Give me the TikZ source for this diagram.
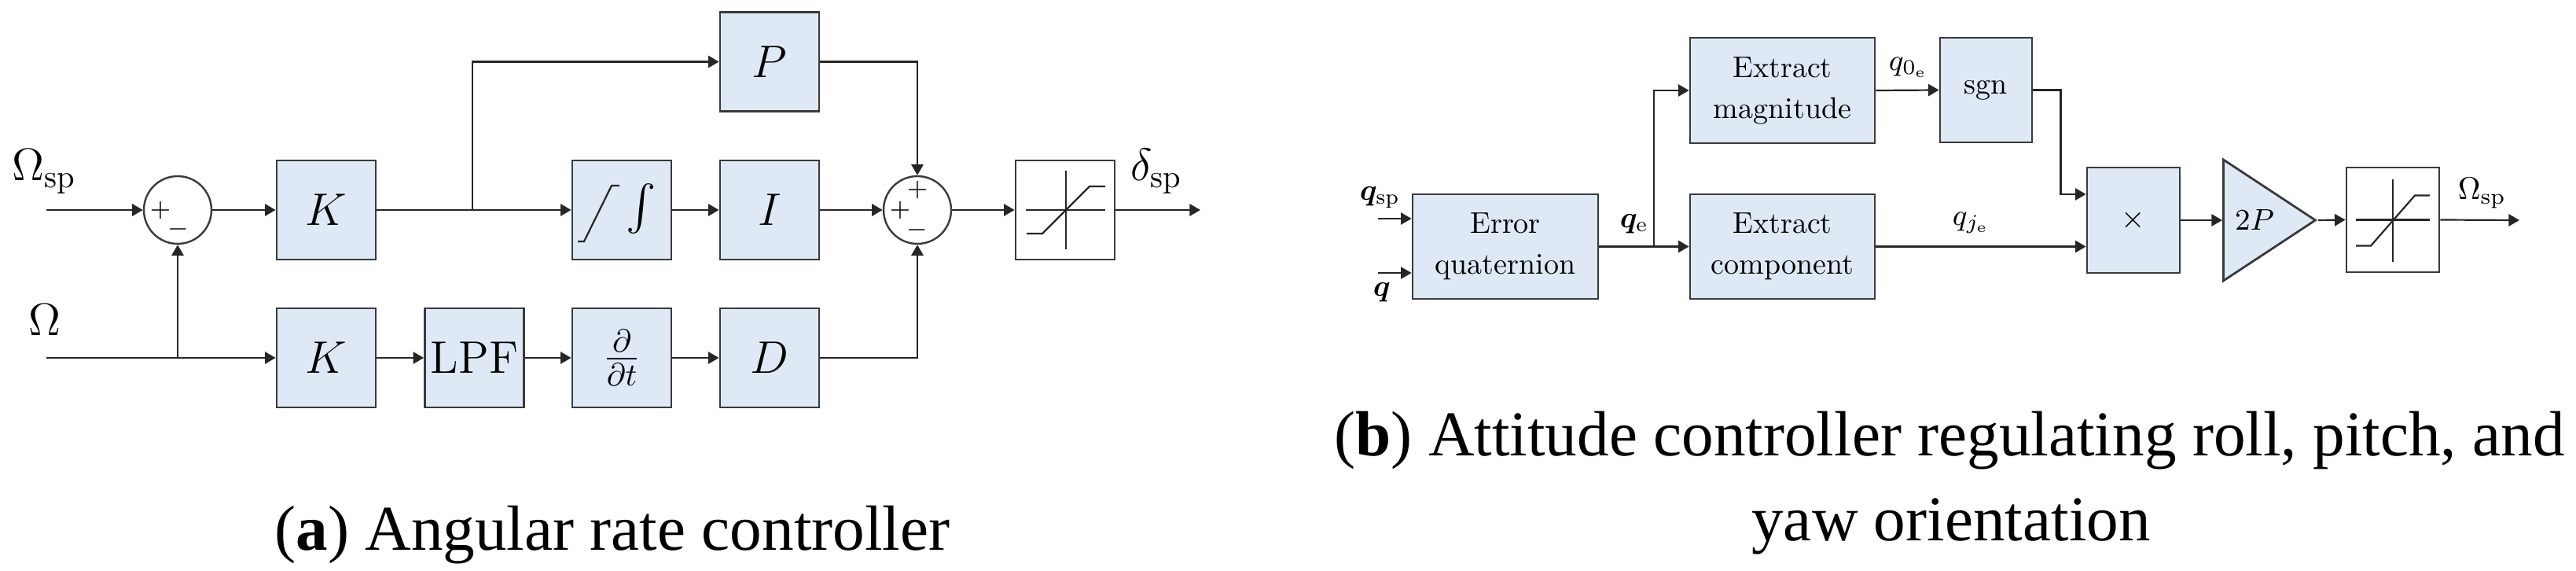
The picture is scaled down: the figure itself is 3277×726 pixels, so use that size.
\RequirePackage{fix-cm}
\documentclass[tikz,border=0pt]{standalone}
\usepackage{amsmath}
\usepackage{bm}
\usepackage{fontspec}
\usetikzlibrary{arrows.meta,shapes.geometric,calc}
\newfontfamily\capfont{Liberation Serif}
\definecolor{boxfill}{HTML}{DEE9F5}
\definecolor{boxline}{HTML}{3A3A3A}
\definecolor{linec}{HTML}{262626}
\begin{document}
\begin{tikzpicture}[x=0.25pt,y=-0.25pt,
  blk/.style={draw=boxline, fill=boxfill, line width=0.7pt, minimum width=31.5pt, minimum height=31.5pt, inner sep=0pt, font=\fontsize{14.5}{17}\selectfont},
  satblk/.style={draw=boxline, fill=white, line width=0.7pt, inner sep=0pt},
  sumc/.style={circle, draw=boxline, line width=0.6pt, minimum size=21.5pt, inner sep=0pt},
  sig/.style={font=\fontsize{8}{9}\selectfont, inner sep=0pt},
  arr/.style={-{Triangle[length=3.4pt,width=3.8pt]}, line width=0.55pt, draw=linec},
  ln/.style={line width=0.55pt, draw=linec},
  lbla/.style={font=\fontsize{14.5}{17}\selectfont, inner sep=0pt},
  bblk/.style={draw=boxline, fill=boxfill, line width=0.7pt, inner sep=0pt, align=center, font=\fontsize{9.5}{13}\selectfont},
  lblb/.style={font=\fontsize{9.5}{11}\selectfont, inner sep=0pt},
  captxt/.style={font=\capfont\fontsize{20.3}{26.75}\selectfont, inner sep=0pt}
]
\useasboundingbox (0,0) rectangle (3277,726);

% ---------------- panel (a) ----------------
\node[sumc] (sum1) at (226,267) {};
\node[blk] (ktop) at (415,267) {$K$};
\node[blk] (int) at (791,267) {};
\node[blk] (ib) at (979,267) {$I$};
\node[blk] (P) at (979,78.5) {$P$};
\node[sumc] (sum2) at (1167,267) {};
\node[satblk, minimum width=31.5pt, minimum height=31.5pt] (sat) at (1355,267) {};
\node[blk] (kbot) at (415,455) {$K$};
\node[blk] (lpf) at (603.5,455) {LPF};
\node[blk] (ddt) at (791,455) {$\frac{\partial}{\partial t}$};
\node[blk] (D) at (979,455) {$D$};

\coordinate (ospin) at (59,267);
\coordinate (omin) at (59,455);
\coordinate (br1) at (601,267);
\coordinate (outa) at (1527,267);

\draw[arr] (ospin) -- (sum1.west);
\draw[arr] (omin) -- (kbot.west);
\draw[arr] (sum1 |- kbot) -- (sum1.south);
\draw[arr] (sum1.east) -- (ktop.west);
\draw[arr] (ktop.east) -- (int.west);
\draw[arr] (br1) |- (P.west);
\draw[arr] (int.east) -- (ib.west);
\draw[arr] (ib.east) -- (sum2.west);
\draw[arr] (P.east) -| (sum2.north);
\draw[arr] (kbot.east) -- (lpf.west);
\draw[arr] (lpf.east) -- (ddt.west);
\draw[arr] (ddt.east) -- (D.west);
\draw[arr] (D.east) -| (sum2.south);
\draw[arr] (sum2.east) -- (sat.west);
\draw[arr] (sat.east) -- (outa);

\node[sig] (s1a) at ($(sum1)+(-22,1)$) {$+$};
\node[sig] (s1b) at ($(sum1)+(1,25)$) {$-$};
\node[sig] (s2a) at ($(sum2)+(0,-25)$) {$+$};
\node[sig] (s2b) at ($(sum2)+(-22,1)$) {$+$};
\node[sig] (s2c) at ($(sum2)+(0,26)$) {$-$};

\begin{scope}[shift={(int.center)}]
  \draw[ln] (-56,40) -- (-48,40) -- (-13,-31) -- (-3,-31);
  \node[lbla] (intsym) at (25,-1) {$\int$};
\end{scope}
\begin{scope}[shift={(sat.center)}]
  \draw[ln] (-50,0) -- (51,0);
  \draw[ln] (1,-50) -- (1,50);
  \draw[ln] (-49,30) -- (-29,30) -- (31,-30) -- (51,-30);
\end{scope}

\node[lbla, anchor=base west] (lOsp) at (15,230) {$\Omega_{\mathrm{sp}}$};
\node[lbla, anchor=base west] (lO) at (36,427) {$\Omega$};
\node[lbla, anchor=base west] (ldsp) at (1438,230) {$\delta_{\mathrm{sp}}$};

\node[captxt, anchor=base] (capa) at (779,700) {(\textbf{a}) Angular rate controller};

% ---------------- panel (b) ----------------
\node[bblk, minimum width=59pt, minimum height=33.25pt] (eq) at (1915,313.5) {Error\\quaternion};
\node[bblk, minimum width=58.75pt, minimum height=33.5pt] (em) at (2267.5,115) {Extract\\magnitude};
\node[bblk, minimum width=58.75pt, minimum height=33.25pt] (ec) at (2267.5,313.5) {Extract\\component};
\node[bblk, minimum width=29.25pt, minimum height=33.25pt] (sgn) at (2526.5,114.5) {sgn};
\node[bblk, minimum width=29.5pt, minimum height=33.5pt] (mul) at (2714,280) {$\times$};
\node[isosceles triangle, isosceles triangle stretches, draw=boxline, fill=boxfill, line width=0.7pt, inner sep=0pt,
      minimum height=29.25pt, minimum width=38.5pt, anchor=lower side] (tri) at (2827,280) {};
\node[lblb] (tril) at (2868,280) {$2P$};
\node[satblk, minimum width=29.5pt, minimum height=33.25pt] (satb) at (3044,279.5) {};

\coordinate (qspin) at (1753,278);
\coordinate (qin) at (1753,347);
\coordinate (br2) at (2104,313.5);
\coordinate (mulin1) at ($(mul.west)+(0,-33)$);
\coordinate (outb) at (3205,280);

\draw[arr] (qspin) -- (qspin -| eq.west);
\draw[arr] (qin) -- (qin -| eq.west);
\draw[arr] (eq.east) -- (ec.west);
\draw[arr] (br2) |- (em.west);
\draw[arr] (em.east) -- (sgn.west);
\draw[arr] (ec.east) -- (ec.east -| mul.west);
\draw[arr] (sgn.east) -- ++(35,0) |- (mulin1);
\draw[arr] (mul.east) -- (tri.lower side);
\draw[arr] (tri.apex) -- (satb.west);
\draw[arr] (satb.east) -- (outb);

\begin{scope}[shift={(satb.center)}]
  \draw[ln] (-47,0) -- (47,0);
  \draw[ln] (0,-51) -- (0,54);
  \draw[ln] (-47,33) -- (-28,33) -- (28,-31) -- (47,-31);
\end{scope}

\node[lblb, anchor=base west] (lqsp) at (1729,255) {$\bm{q}_{\mathrm{sp}}$};
\node[lblb, anchor=base west] (lq) at (1746,377) {$\bm{q}$};
\node[lblb, anchor=base west] (lqe) at (2060,290) {$\bm{q}_{\mathrm{e}}$};
\node[lblb, anchor=base west] (lq0) at (2402,90) {$q_{0_{\mathrm{e}}}$};
\node[lblb, anchor=base west] (lqj) at (2483,287) {$q_{j_{\mathrm{e}}}$};
\node[font=\fontsize{10}{12}\selectfont, inner sep=0pt, anchor=base west] (lOb) at (3126,254) {$\Omega_{\mathrm{sp}}$};

\node[captxt, anchor=base] (capb1) at (2480,580) {(\textbf{b}) Attitude controller regulating roll, pitch, and};
\node[captxt, anchor=base] (capb2) at (2482,687) {yaw orientation};
\end{tikzpicture}
\end{document}
